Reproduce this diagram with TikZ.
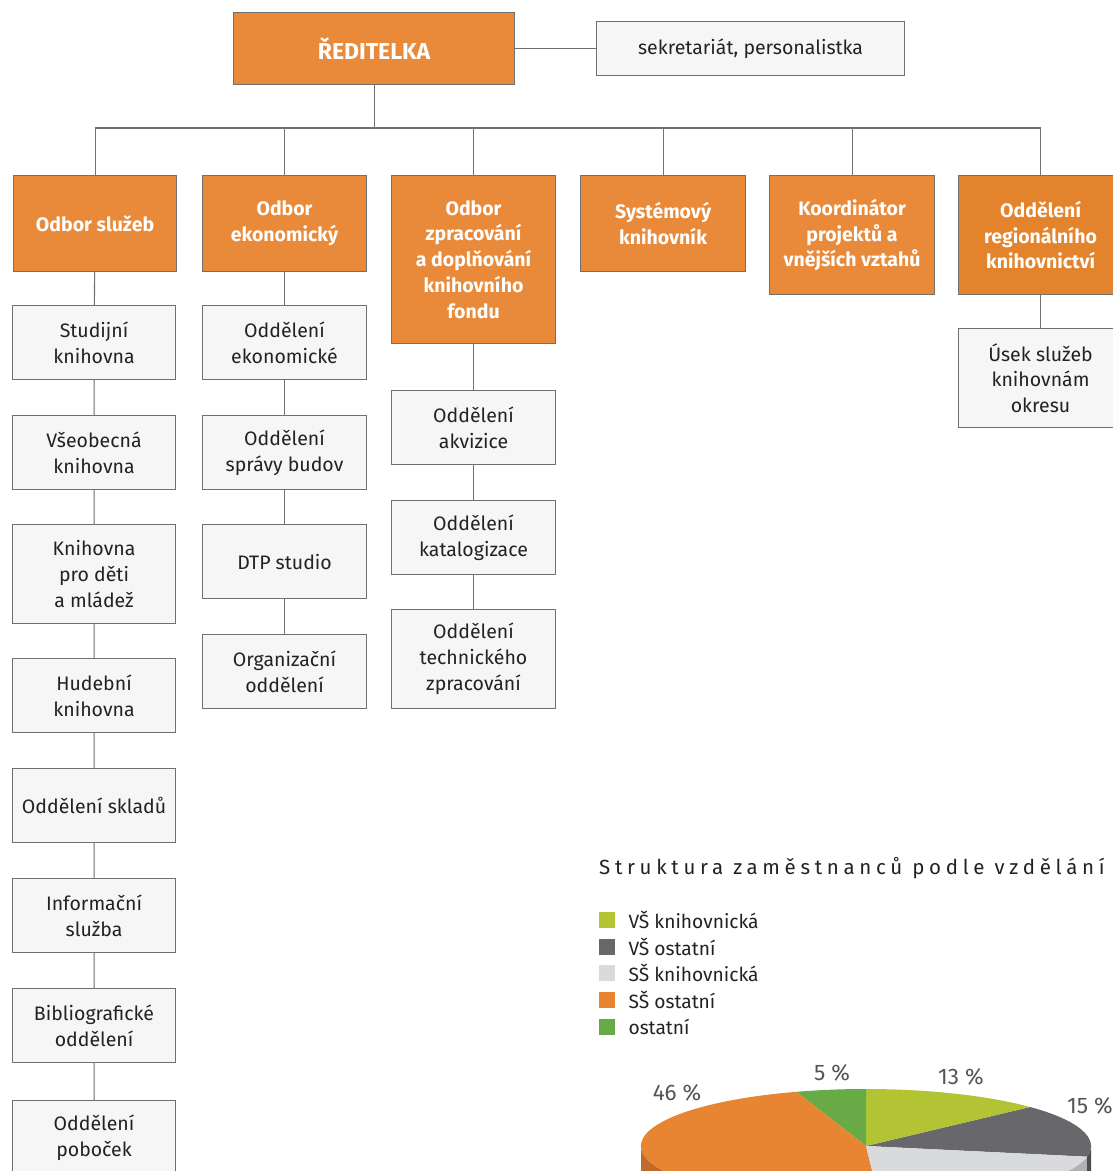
\documentclass[tikz,border=0pt]{standalone}
\usepackage{fontspec}
\setmainfont{Fira Sans}
\definecolor{org}{HTML}{E88A3A}
\definecolor{orgdk}{HTML}{E3832B}
\definecolor{boxfill}{HTML}{F5F6F5}
\definecolor{edge}{HTML}{707070}
\definecolor{txt}{HTML}{222222}
\definecolor{pyg}{HTML}{B2C434}
\definecolor{pdg}{HTML}{68676B}
\definecolor{plg}{HTML}{D9DADB}
\definecolor{por}{HTML}{E88532}
\definecolor{pgr}{HTML}{68AA45}
\definecolor{sor}{HTML}{C0692A}
\definecolor{slg}{HTML}{B0B1B3}
\definecolor{sdg}{HTML}{4E4D50}
\definecolor{lbl}{HTML}{555555}
\begin{document}
\begin{tikzpicture}[x=1pt,y=1pt,
  base/.style={draw=edge,line width=1.1pt,align=center,anchor=north west,inner sep=0pt,
    font=\fontsize{19.5}{25.8}\selectfont},
  obox/.style={base,fill=org,text=white,font=\bfseries\fontsize{19.5}{25.8}\selectfont},
  wbox/.style={base,fill=boxfill,text=txt},
  conn/.style={draw=edge,line width=1.1pt},
  pct/.style={text=lbl,font=\fontsize{22.5}{26}\selectfont},
  leg/.style={text=txt,anchor=west,font=\fontsize{19.2}{22}\selectfont},
  sq/.style={minimum size=16pt,inner sep=0pt,anchor=north west},
  el/.style={x radius=225pt,y radius=57pt}]
\clip (0,0) rectangle (1113,-1171);
\fill[white] (0,0) rectangle (1113,-1171);

% top
\node[obox,minimum width=281,minimum height=72,font=\bfseries\fontsize{23}{26}\selectfont] (r) at (233,-12) {ŘEDITELKA};
\node[wbox,minimum width=308,minimum height=54] (sek) at (596,-21) {sekretariát, personalistka};
\draw[conn] (r.east) -- (sek.west);

% level 1
\node[obox,minimum width=163,minimum height=96] (o1) at (13,-175) {Odbor služeb};
\node[obox,minimum width=164,minimum height=96] (o2) at (202,-175) {Odbor\\ekonomický};
\node[obox,minimum width=164,minimum height=168] (o3) at (391,-175) {Odbor\\zpracování\\a doplňování\\knihovního\\fondu};
\node[obox,minimum width=165,minimum height=96] (o4) at (580,-175) {Systémový\\knihovník};
\node[obox,minimum width=165,minimum height=119] (o5) at (769,-175) {Koordinátor\\projektů a\\vnějších vztahů};
\node[obox,fill=orgdk,minimum width=164,minimum height=119] (o6) at (958,-175) {Oddělení\\regionálního\\knihovnictví};

\coordinate (bus) at (0,-128);
\draw[conn] (r.south) -- (r.south |- bus);
\draw[conn] (o1.north |- bus) -- (o6.north |- bus);
\foreach \n in {o1,o2,o3,o4,o5,o6} \draw[conn] (\n.north) -- (\n.north |- bus);

% column 1
\node[wbox,minimum width=163,minimum height=74] (a1) at (12,-305) {Studijní\\knihovna};
\node[wbox,minimum width=163,minimum height=74] (a2) at (12,-415) {Všeobecná\\knihovna};
\node[wbox,minimum width=163,minimum height=99] (a3) at (12,-524) {Knihovna\\pro děti\\a mládež};
\node[wbox,minimum width=163,minimum height=74] (a4) at (12,-658) {Hudební\\knihovna};
\node[wbox,minimum width=163,minimum height=74] (a5) at (12,-768) {Oddělení skladů};
\node[wbox,minimum width=163,minimum height=74] (a6) at (12,-878) {Informační\\služba};
\node[wbox,minimum width=163,minimum height=74] (a7) at (12,-988) {Bibliografické\\oddělení};
\node[wbox,minimum width=163,minimum height=74] (a8) at (12,-1100) {Oddělení\\poboček};
\draw[conn] (o1) -- (a1) (a1) -- (a2) (a2) -- (a3) (a3) -- (a4) (a4) -- (a5) (a5) -- (a6) (a6) -- (a7) (a7) -- (a8);

% column 2
\node[wbox,minimum width=164,minimum height=74] (b1) at (202,-305) {Oddělení\\ekonomické};
\node[wbox,minimum width=164,minimum height=74] (b2) at (202,-415) {Oddělení\\správy budov};
\node[wbox,minimum width=164,minimum height=74] (b3) at (202,-524) {DTP studio};
\node[wbox,minimum width=164,minimum height=74] (b4) at (202,-634) {Organizační\\oddělení};
\draw[conn] (o2) -- (b1) (b1) -- (b2) (b2) -- (b3) (b3) -- (b4);

% column 3
\node[wbox,minimum width=164,minimum height=74] (c1) at (391,-390) {Oddělení\\akvizice};
\node[wbox,minimum width=164,minimum height=74] (c2) at (391,-500) {Oddělení\\katalogizace};
\node[wbox,minimum width=164,minimum height=99] (c3) at (391,-609) {Oddělení\\technického\\zpracování};
\draw[conn] (o3) -- (c1) (c1) -- (c2) (c2) -- (c3);

% column 6
\node[wbox,minimum width=164,minimum height=99] (f1) at (958,-328) {Úsek služeb\\knihovnám\\okresu};
\draw[conn] (o6) -- (f1);

% chart title and legend
\node[anchor=base west,inner sep=0pt,text=txt,font=\fontsize{20.5}{24}\selectfont\addfontfeature{LetterSpace=22.8}] (title) at (599,-874) {Struktura zaměstnanců podle vzdělání};
\node[sq,fill=pyg] (s1) at (599,-912) {};
\node[sq,fill=pdg] (s2) at (599,-939) {};
\node[sq,fill=plg] (s3) at (599,-965) {};
\node[sq,fill=por] (s4) at (599,-992) {};
\node[sq,fill=pgr] (s5) at (599,-1019) {};
\node[leg] (l1) at (625,-920) {VŠ knihovnická};
\node[leg] (l2) at (625,-947) {VŠ ostatní};
\node[leg] (l3) at (625,-973) {SŠ knihovnická};
\node[leg] (l4) at (625,-1000) {SŠ ostatní};
\node[leg] (l5) at (625,-1027) {ostatní};

% pie
\coordinate (pc) at (866,-1146);
\fill[sor] (pc) ++(180:225pt and 57pt) arc[el,start angle=180,end angle=273.6] -- ++(0,-40) arc[el,start angle=273.6,end angle=180] -- cycle;
\fill[slg] (pc) ++(273.6:225pt and 57pt) arc[el,start angle=273.6,end angle=349.2] -- ++(0,-40) arc[el,start angle=349.2,end angle=273.6] -- cycle;
\fill[sdg] (pc) ++(349.2:225pt and 57pt) arc[el,start angle=349.2,end angle=360] -- ++(0,-40) arc[el,start angle=360,end angle=349.2] -- cycle;
\fill[pdg] (pc) -- ++(-10.8:225pt and 57pt) arc[el,start angle=-10.8,end angle=43.2] -- cycle;
\fill[pyg] (pc) -- ++(43.2:225pt and 57pt) arc[el,start angle=43.2,end angle=90] -- cycle;
\fill[pgr] (pc) -- ++(90:225pt and 57pt) arc[el,start angle=90,end angle=108] -- cycle;
\fill[por] (pc) -- ++(108:225pt and 57pt) arc[el,start angle=108,end angle=273.6] -- cycle;
\fill[plg] (pc) -- ++(273.6:225pt and 57pt) arc[el,start angle=273.6,end angle=349.2] -- cycle;

\node[pct] (p46) at (677,-1093) {46 \%};
\node[pct] (p5) at (832,-1073) {5 \%};
\node[pct] (p13) at (961,-1077) {13 \%};
\node[pct] (p15) at (1090,-1106) {15 \%};
\end{tikzpicture}
\end{document}
